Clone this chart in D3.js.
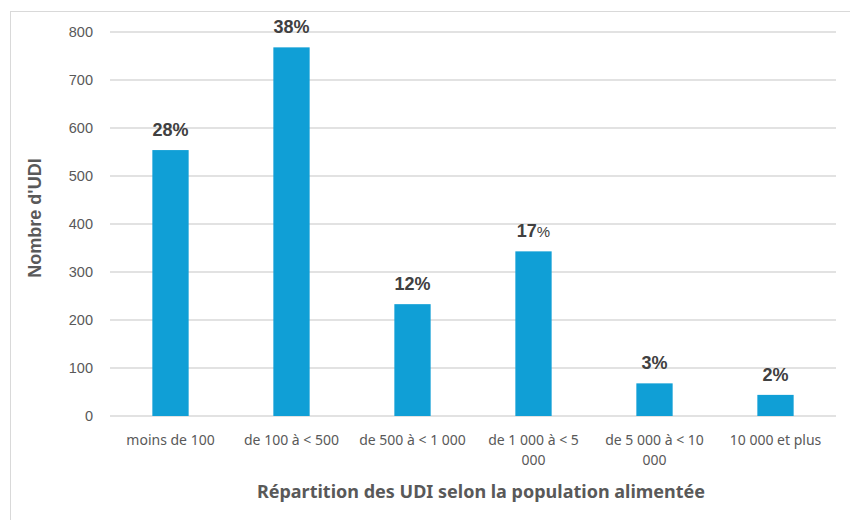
<!DOCTYPE html>
<html>
<head>
<meta charset="utf-8">
<script src="https://cdn.jsdelivr.net/npm/d3@7"></script>
<style>
  html, body { margin: 0; padding: 0; background: #fff; }
  svg { display: block; }
</style>
</head>
<body>
<svg id="chart" width="850" height="520"></svg>
<script>
// Number of UDI per served-population class
const categories = [
  ["moins de 100"],
  ["de 100 à < 500"],
  ["de 500 à < 1 000"],
  ["de 1 000 à < 5", "000"],
  ["de 5 000 à < 10", "000"],
  ["10 000 et plus"]
];
const counts = [554, 768, 233, 343, 68, 44];
const shareLabels = ["28", "38", "12", "17", "3", "2"];
const yTicks = [0, 100, 200, 300, 400, 500, 600, 700, 800];

const svg = d3.select("#chart");
const W = 850, H = 520;
const margin = { left: 110, right: 14, top: 32, bottom: 104 };

// frame around the chart area
svg.append("rect")
  .attr("x", 10.5).attr("y", 11.5)
  .attr("width", W).attr("height", H)
  .attr("fill", "none").attr("stroke", "#d9d9d9").attr("stroke-width", 1);

const x = d3.scaleBand()
  .domain(d3.range(categories.length))
  .range([margin.left, W - margin.right])
  .paddingInner(0.7).paddingOuter(0.35);

const y = d3.scaleLinear()
  .domain([0, 800])
  .range([H - margin.bottom, margin.top]);

// gridlines
svg.append("g")
  .selectAll("line")
  .data(yTicks)
  .join("line")
  .attr("x1", margin.left).attr("x2", W - margin.right)
  .attr("y1", d => y(d)).attr("y2", d => y(d))
  .attr("stroke", "#d9d9d9").attr("stroke-width", 1.5);

// y axis labels
const yAxis = svg.append("g")
  .attr("transform", `translate(${margin.left - 17},0)`)
  .call(d3.axisLeft(y).tickValues(yTicks).tickSize(0).tickPadding(0));
yAxis.select(".domain").remove();
yAxis.selectAll("text")
  .attr("font-family", "Liberation Sans, Arial, sans-serif")
  .attr("font-size", 14.5)
  .attr("fill", "#595959");

// bars
svg.append("g")
  .selectAll("rect")
  .data(counts)
  .join("rect")
  .attr("x", (d, i) => x(i))
  .attr("width", x.bandwidth())
  .attr("y", d => y(d))
  .attr("height", d => y(0) - y(d))
  .attr("fill", "#109fd6");

// share labels above bars
const lbl = svg.append("g")
  .selectAll("text")
  .data(counts)
  .join("text")
  .attr("x", (d, i) => x(i) + x.bandwidth() / 2)
  .attr("y", d => y(d) - 14)
  .attr("text-anchor", "middle")
  .attr("font-family", "Liberation Sans, Arial, sans-serif")
  .attr("font-weight", "bold")
  .attr("font-size", 18)
  .attr("fill", "#404040");
lbl.append("tspan").text((d, i) => shareLabels[i]);
lbl.append("tspan")
  .text("%")
  .attr("font-weight", (d, i) => i === 3 ? "normal" : "bold")
  .attr("font-size", (d, i) => i === 3 ? 15 : 18);

// category labels
const cat = svg.append("g")
  .selectAll("text")
  .data(categories)
  .join("text")
  .attr("x", (d, i) => x(i) + x.bandwidth() / 2)
  .attr("y", 445)
  .attr("text-anchor", "middle")
  .attr("font-family", "'Noto Sans', Lato, sans-serif")
  .attr("font-size", 14)
  .attr("fill", "#595959");
cat.selectAll("tspan")
  .data(d => d)
  .join("tspan")
  .attr("x", function () { return d3.select(this.parentNode).attr("x"); })
  .attr("dy", (d, j) => j === 0 ? 0 : 20)
  .text(d => d);

// axis titles
svg.append("text")
  .attr("x", 481).attr("y", 498)
  .attr("text-anchor", "middle")
  .attr("font-family", "'Noto Sans', Lato, sans-serif")
  .attr("font-weight", "bold")
  .attr("font-size", 18)
  .attr("fill", "#595959")
  .text("Répartition des UDI selon la population alimentée");

svg.append("text")
  .attr("transform", "translate(41,218) rotate(-90)")
  .attr("text-anchor", "middle")
  .attr("font-family", "Liberation Sans, Arial, sans-serif")
  .attr("font-weight", "bold")
  .attr("font-size", 18)
  .attr("fill", "#595959")
  .text("Nombre d'UDI");
</script>
</body>
</html>
